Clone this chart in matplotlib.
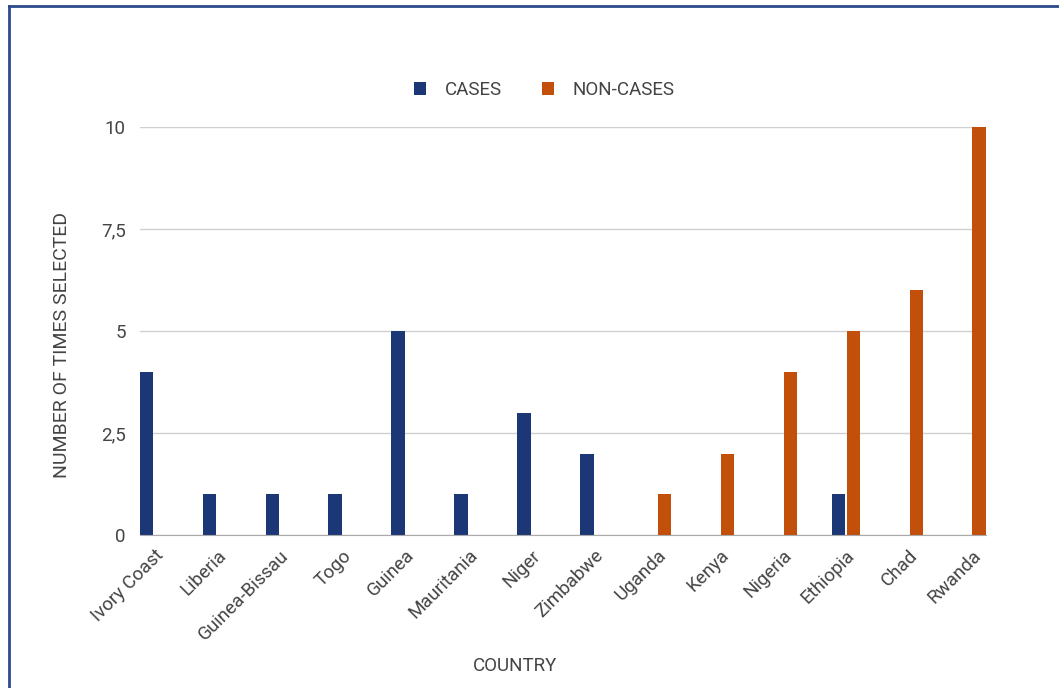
"""Grouped bar chart: times selected per country, cases vs non-cases."""

import matplotlib
matplotlib.use('Agg')
import matplotlib.pyplot as plt
from matplotlib.lines import Line2D
import numpy as np

countries = ['Ivory Coast', 'Liberia', 'Guinea-Bissau', 'Togo', 'Guinea',
             'Mauritania', 'Niger', 'Zimbabwe', 'Uganda', 'Kenya',
             'Nigeria', 'Ethiopia', 'Chad', 'Rwanda']
cases = [4, 1, 1, 1, 5, 1, 3, 2, 0, 0, 0, 1, 0, 0]
non_cases = [0, 0, 0, 0, 0, 0, 0, 0, 1, 2, 4, 5, 6, 10]
y_ticks = [0, 2.5, 5, 7.5, 10]
y_tick_labels = ['0', '2,5', '5', '7,5', '10']

plt.rcParams['font.family'] = ['Roboto', 'DejaVu Sans']

blue = '#1b3775'
orange = '#c24f0a'
text_col = '#444444'
fs = 13.5

fig = plt.figure(figsize=(10.59, 6.88), dpi=100)
ax = fig.add_axes([0.132, 0.222, 0.799, 0.593])

x = np.arange(len(countries))
w = 0.215
off = 0.12
ax.bar(x - off, cases, w, color=blue, label='CASES', zorder=3)
ax.bar(x + off, non_cases, w, color=orange, label='NON-CASES', zorder=3)

ax.set_xlim(-off - w / 2, len(countries) - 1 + off + w / 2)
ax.set_ylim(0, 10)
ax.set_yticks(y_ticks)
ax.set_yticklabels(y_tick_labels)
ax.set_xticks(x)
ax.set_xticklabels(countries, rotation=45, ha='right', rotation_mode='anchor')

ax.grid(axis='y', color='#d0d0d0', linewidth=1, zorder=0)
for side in ['top', 'right', 'left']:
  ax.spines[side].set_visible(False)
ax.spines['bottom'].set_color('#aaaaaa')
ax.spines['bottom'].set_zorder(4)
ax.tick_params(axis='both', length=0, labelsize=fs, colors=text_col)
ax.tick_params(axis='y', pad=10)
ax.tick_params(axis='x', pad=8)

ax.set_ylabel('NUMBER OF TIMES SELECTED', fontsize=14, color=text_col)
ax.yaxis.set_label_coords(-0.081, 0.466)
ax.set_xlabel('COUNTRY', fontsize=fs, color=text_col)
ax.xaxis.set_label_coords(0.444, -0.299)

fig.legend(loc='center', bbox_to_anchor=(0.514, 0.869), ncol=2, frameon=False,
           fontsize=fs, labelcolor=text_col, handlelength=0.65, handleheight=0.65,
           columnspacing=2.1, handletextpad=1.0)

# left and top frame border
fig.add_artist(Line2D([0.0085, 0.0085], [0, 0.991], transform=fig.transFigure,
                      color='#2c4a8c', linewidth=2))
fig.add_artist(Line2D([0.0085, 1.0], [0.991, 0.991], transform=fig.transFigure,
                      color='#2c4a8c', linewidth=2))

fig.savefig('out.png', dpi=100)
